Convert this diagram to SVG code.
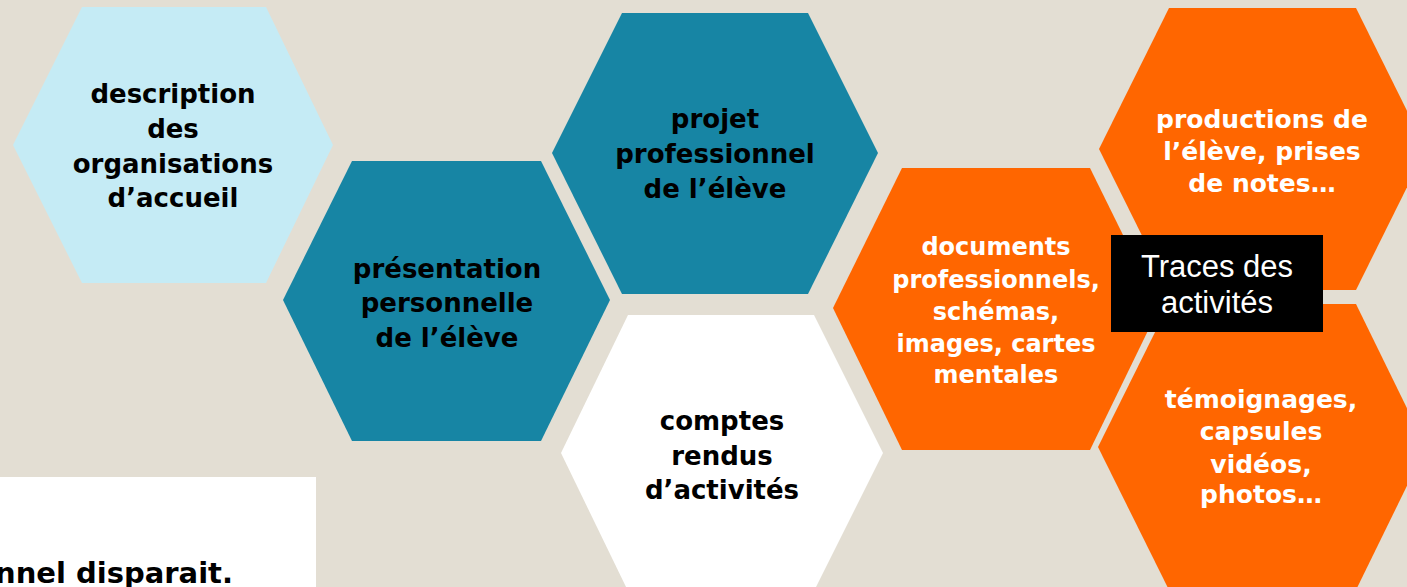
<svg xmlns="http://www.w3.org/2000/svg" width="1407" height="587" viewBox="0 0 1407 587">
<style>
.t{font-family:"DejaVu Sans","Liberation Sans",sans-serif;font-weight:bold;text-anchor:middle}
.k{fill:#000;font-size:26px}
.w{fill:#fff}
.lb{fill:#C5EBF5}
.tl{fill:#1785A4}
.wh{fill:#fff}
.or{fill:#FF6600}
</style>
<rect x="0" y="0" width="1407" height="587" fill="#E3DED3"/>
<g id="hex-description">
<polygon class="lb" points="82,7 266,7 333,145 266,283 82,283 13,145"/>
<text class="t k"><tspan x="173" y="103">description</tspan><tspan x="173" y="138">des</tspan><tspan x="173" y="173">organisations</tspan><tspan x="173" y="207">d’accueil</tspan></text>
</g>
<g id="hex-presentation">
<polygon class="tl" points="352,161 541,161 610,300 541,441 352,441 283,300"/>
<text class="t k"><tspan x="447" y="278">présentation</tspan><tspan x="447" y="312">personnelle</tspan><tspan x="447" y="347">de l’élève</tspan></text>
</g>
<g id="hex-projet">
<polygon class="tl" points="622,13 808,13 878,153 808,294 622,294 552,153"/>
<text class="t k"><tspan x="715" y="128">projet</tspan><tspan x="715" y="163">professionnel</tspan><tspan x="715" y="198">de l’élève</tspan></text>
</g>
<g id="hex-comptes">
<polygon class="wh" points="628,315 814,315 883,453 814,591 628,591 561,453"/>
<text class="t k"><tspan x="722" y="430">comptes</tspan><tspan x="722" y="465">rendus</tspan><tspan x="722" y="499">d’activités</tspan></text>
</g>
<g id="hex-documents">
<polygon class="or" points="902,168 1090,168 1159,308 1090,450 902,450 833,308"/>
<text class="t w" font-size="24"><tspan x="996" y="255">documents</tspan><tspan x="996" y="288">professionnels,</tspan><tspan x="996" y="320">schémas,</tspan><tspan x="996" y="352">images, cartes</tspan><tspan x="996" y="383">mentales</tspan></text>
</g>
<g id="hex-productions">
<polygon class="or" points="1169,8 1356,8 1426,149 1356,290 1169,290 1099,149"/>
<text class="t w" font-size="25"><tspan x="1262" y="128">productions de</tspan><tspan x="1262" y="160">l’élève, prises</tspan><tspan x="1262" y="192">de notes…</tspan></text>
</g>
<g id="hex-temoignages">
<polygon class="or" points="1169,304 1356,304 1426,447 1356,590 1169,590 1098,447"/>
<text class="t w" font-size="25"><tspan x="1261" y="408">témoignages,</tspan><tspan x="1261" y="440">capsules</tspan><tspan x="1261" y="473">vidéos,</tspan><tspan x="1261" y="503">photos…</tspan></text>
</g>
<g id="label-traces">
<rect x="1111" y="235" width="212" height="97" fill="#000"/>
<text font-family="'Liberation Sans',Arial,sans-serif" font-size="31" fill="#fff" text-anchor="middle"><tspan x="1217" y="277">Traces des</tspan><tspan x="1217" y="313">activités</tspan></text>
</g>
<g id="note-box">
<rect x="-1" y="477" width="317" height="115" fill="#fff"/>
<text font-family="'DejaVu Sans',sans-serif" font-weight="bold" font-size="29" fill="#000" text-anchor="end" x="233" y="583">nnel disparait.</text>
</g>
<g id="connectors"></g>
</svg>
